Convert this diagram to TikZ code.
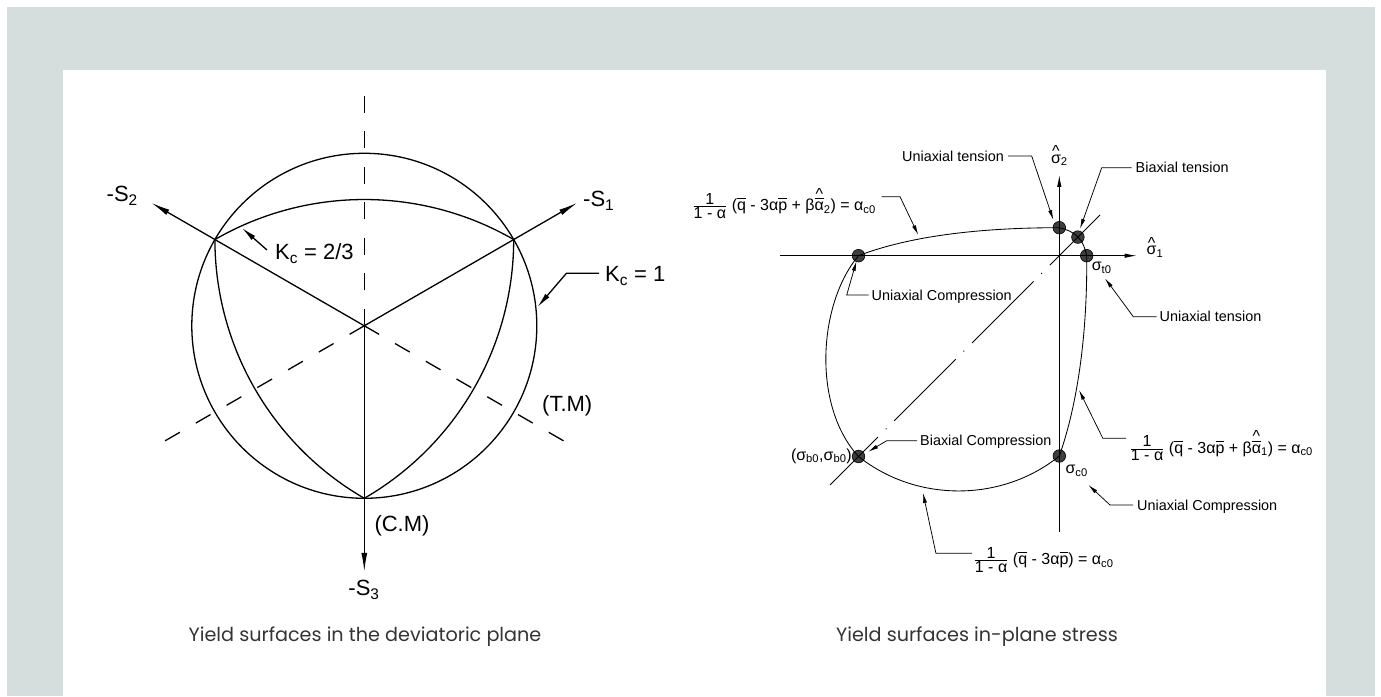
\documentclass[tikz,border=0pt]{standalone}
\usepackage{fontspec}
\setmainfont{Liberation Sans}
\newfontfamily\capfont{Poppins}
\usetikzlibrary{arrows.meta,calc}
\definecolor{bggray}{RGB}{214,222,221}
\definecolor{dotgray}{RGB}{62,62,62}
\definecolor{capgray}{RGB}{52,52,52}
\newcommand\ovl[1]{\ensuremath{\overline{\hbox{\vphantom{1}#1}}}}
\newcommand\hatbar[1]{\hbox{\ooalign{\ovl{#1}\cr\hidewidth\raisebox{0.74em}{\char94}\hidewidth\cr}}}
\newcommand\hatsig[1]{\hbox{\ooalign{σ\cr\hidewidth\raisebox{0.40em}{\char94}\hidewidth\cr}}\textsubscript{#1}}
\newcommand\frc{\ensuremath{\frac{\hbox{1}}{\hbox{1 - α}}}}
\begin{document}
\begin{tikzpicture}[x=1pt,y=1pt,
  lline/.style={line width=1.3pt},
  rline/.style={line width=0.85pt},
  leadline/.style={line width=0.75pt},
  ltip/.style={-{Latex[length=19pt,width=6pt]}},
  kctip/.style={-{Latex[length=15pt,width=5.5pt]}},
  rtip/.style={-{Latex[length=12pt,width=4.4pt]}},
  lttip/.style={-{Latex[length=10pt,width=4pt]}},
  dashax/.style={lline,dash pattern=on 17pt off 18.5pt},
  centerline/.style={rline,dash pattern=on 87pt off 11pt on 1pt off 11pt,dash phase=16pt},
  biglab/.style={font=\fontsize{22}{26}\selectfont,inner sep=0pt},
  smlab/.style={font=\fontsize{14.4}{17}\selectfont,inner sep=0pt,text height=10.3pt,text depth=0pt},
  siglab/.style={font=\fontsize{16}{19}\selectfont,inner sep=0pt},
  fmla/.style={font=\fontsize{16}{19}\selectfont,inner sep=0pt},
  stressdot/.style={circle,fill=dotgray,draw=black,line width=0.6pt,minimum size=12.6pt,inner sep=0pt},
  captext/.style={font=\capfont\fontsize{19.2}{23}\selectfont,text=capgray,inner sep=0pt}]
\useasboundingbox (0,0) rectangle (1381,696);
\fill[white] (0,0) rectangle (1381,696);
\fill[bggray] (7,0) rectangle (1375,689);
\fill[white] (63,0) rectangle (1326,626);

% ---------- left: deviatoric plane ----------
\coordinate (LC) at (364.3,370.2);
\coordinate (V1) at ([shift={(30:172.5)}]LC);
\coordinate (V2) at ([shift={(150:172.5)}]LC);
\coordinate (V3) at ([shift={(270:172.5)}]LC);
\coordinate (S1t) at ([shift={(30:246)}]LC);
\coordinate (S2t) at ([shift={(150:246)}]LC);
\coordinate (S3t) at ([shift={(270:246)}]LC);
\coordinate (D1) at ([shift={(90:232.5)}]LC);
\coordinate (D2) at ([shift={(210:232.5)}]LC);
\coordinate (D3) at ([shift={(330:232.5)}]LC);

\draw[lline] (LC) circle[radius=172.5];
\draw[lline] (V1) arc[start angle=60,end angle=120,radius=298.78]
  arc[start angle=180,end angle=240,radius=298.78]
  arc[start angle=-60,end angle=0,radius=298.78] -- cycle;
\draw[dashax] (LC) -- (D1);
\draw[dashax] (LC) -- (D2);
\draw[dashax] (LC) -- (D3);
\draw[lline,ltip] (LC) -- (S1t);
\draw[lline,ltip] (LC) -- (S2t);
\draw[lline,ltip] (LC) -- (S3t);

\node[biglab,anchor=base west] (lS1) at (583,489) {-S\textsubscript{1}};
\node[biglab,anchor=base east] (lS2) at (138,494) {-S\textsubscript{2}};
\node[biglab,anchor=base] (lS3) at (364,100) {-S\textsubscript{3}};
\node[biglab,anchor=base west] (kc23) at (275,436) {K\textsubscript{c} = 2/3};
\node[biglab,anchor=base west] (kc1) at (605,414) {K\textsubscript{c} = 1};
\node[biglab,anchor=base west] (tm) at (542,284) {(T.M)};
\node[biglab,anchor=base west] (cm) at (374.3,164) {(C.M)};

\coordinate (kc23s) at (267,446);
\coordinate (kc23t) at (242,468);
\draw[lline,kctip] (kc23s) -- (kc23t);
\coordinate (kc1a) at (599,422.7);
\coordinate (kc1b) at (566.4,422.7);
\coordinate (kc1t) at (537.5,389);
\draw[lline,kctip] (kc1a) -- (kc1b) -- (kc1t);

% ---------- right: plane stress ----------
\coordinate (O) at (1059.3,440.3);
\coordinate (HA0) at (780,440.3);
\coordinate (HA1) at (1136.7,440.3);
\coordinate (VA0) at (1059.3,164.3);
\coordinate (VA1) at (1059.3,521);
\coordinate (DG0) at (1100,481);
\coordinate (DG1) at (830,211);

\node[stressdot] (Puc) at (858.5,440.3) {};
\node[stressdot] (Put) at (1059.3,468.3) {};
\node[stressdot] (Pbt) at (1077.9,458.9) {};
\node[stressdot] (Pt0) at (1086.7,440.3) {};
\node[stressdot] (Pc0) at (1059.3,240) {};
\node[stressdot] (Pbc) at (858.5,239.5) {};

\draw[rline] (Puc.center) .. controls (915,462) and (990,468.3) .. (Put.center)
  to[out=-15,in=135] (Pbt.center) to[out=-45,in=105] (Pt0.center)
  .. controls (1087.5,360) and (1077,290) .. (Pc0.center)
  .. controls (1004,195) and (918.5,192) .. (Pbc.center)
  .. controls (812,290) and (818,392) .. (Puc.center);
\draw[rline,rtip] (HA0) -- (HA1);
\draw[rline,rtip] (VA0) -- (VA1);
\draw[centerline] (DG0) -- (DG1);

\node[siglab,anchor=west] (sg1) at (1146.5,444.5) {\hatsig{1}};
\node[siglab,anchor=south] (sg2) at (1059.3,530) {\hatsig{2}};
\node[siglab] (st0) at (1101.7,428) {σ\textsubscript{t0}};
\node[siglab] (sc0) at (1076.7,225) {σ\textsubscript{c0}};
\node[siglab,anchor=east] (sb0) at (852,240) {(σ\textsubscript{b0},σ\textsubscript{b0})};

\node[smlab,anchor=east] (lut1) at (1004,540) {Uniaxial tension};
\node[smlab,anchor=west] (lbt) at (1135.5,528.3) {Biaxial tension};
\node[smlab,anchor=west] (luc1) at (871.5,401) {Uniaxial Compression};
\node[smlab,anchor=west] (lut2) at (1159.5,379.3) {Uniaxial tension};
\node[smlab,anchor=west] (lbc) at (920,255.3) {Biaxial Compression};
\node[smlab,anchor=west] (luc2) at (1137,191) {Uniaxial Compression};

\coordinate (ut1b) at (1031.7,540);  \coordinate (ut1t) at (1053.3,476);
\draw[leadline,lttip] (lut1.east) ++(4,0) -- (ut1b) -- (ut1t);
\coordinate (btb) at (1101.7,528.3); \coordinate (btt) at (1080,467.2);
\draw[leadline,lttip] ([xshift=-4pt]lbt.west) -- (btb) -- (btt);
\coordinate (uc1b) at (846.7,401);   \coordinate (uc1t) at (856.5,435);
\draw[leadline,lttip] ([xshift=-3pt]luc1.west) -- (uc1b) -- (uc1t);
\coordinate (ut2b) at (1133.3,379.3); \coordinate (ut2t) at (1105,417.7);
\draw[leadline,lttip] ([xshift=-3pt]lut2.west) -- (ut2b) -- (ut2t);
\coordinate (bcb) at (886.7,255.3);  \coordinate (bct) at (868.3,244.3);
\draw[leadline,lttip] ([xshift=-3pt]lbc.west) -- (bcb) -- (bct);
\coordinate (uc2b) at (1110,191);    \coordinate (uc2t) at (1088.4,211);
\draw[leadline,lttip] ([xshift=-4pt]luc2.west) -- (uc2b) -- (uc2t);

\node[fmla,anchor=base east] (f2) at (876,485) {\frc\ (\ovl{q} - 3α\ovl{p} + β\hatbar{α}\textsubscript{2}) = α\textsubscript{c0}};
\node[fmla,anchor=base west] (f1) at (1129.5,242.7) {\frc\ (\ovl{q} - 3α\ovl{p} + β\hatbar{α}\textsubscript{1}) = α\textsubscript{c0}};
\node[fmla,anchor=base west] (f0) at (973.5,131) {\frc\ (\ovl{q} - 3α\ovl{p}) = α\textsubscript{c0}};

\coordinate (f2a) at (881.7,499.3); \coordinate (f2b) at (900,499.3); \coordinate (f2t) at (918.3,461);
\draw[leadline,lttip] (f2a) -- (f2b) -- (f2t);
\coordinate (f1a) at (1126,257.7); \coordinate (f1b) at (1102.8,257.7); \coordinate (f1t) at (1079,306);
\draw[leadline,lttip] (f1a) -- (f1b) -- (f1t);
\coordinate (f0a) at (971.8,142.7); \coordinate (f0b) at (935.9,142.7); \coordinate (f0t) at (923,203);
\draw[leadline,lttip] (f0a) -- (f0b) -- (f0t);

% ---------- captions ----------
\node[captext] (cap1) at (365,59) {Yield surfaces in the deviatoric plane};
\node[captext] (cap2) at (977,59) {Yield surfaces in-plane stress};
\end{tikzpicture}
\end{document}
